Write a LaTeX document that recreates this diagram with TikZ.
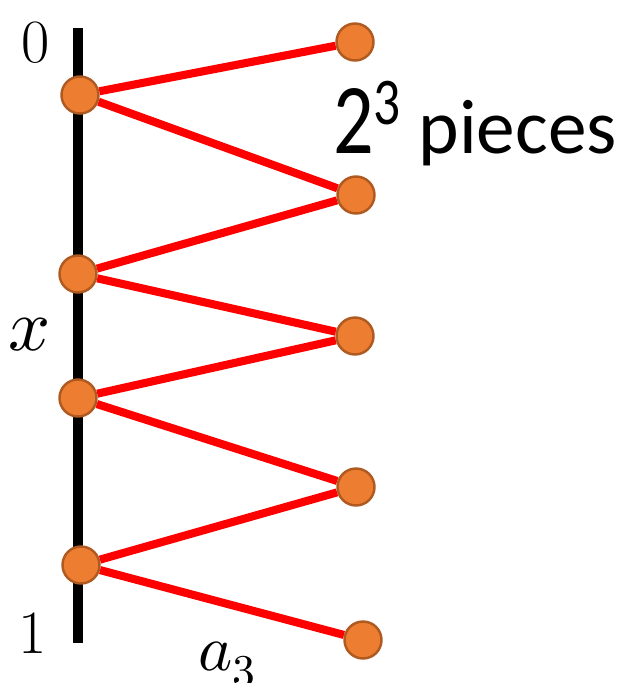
\documentclass[tikz,border=0pt]{standalone}
\usepackage{fontspec}
\usepackage{unicode-math}
\setmathfont{Latin Modern Math}
\newfontfamily\piecesfont{Carlito}
\usepackage{graphicx}
\usepackage{tikz}
\usetikzlibrary{positioning}
\definecolor{DotFill}{HTML}{ED7D31}
\definecolor{DotLine}{HTML}{AE5A21}
\definecolor{ZigRed}{HTML}{FF0000}

\begin{document}
\begin{tikzpicture}[
  x=0.02cm, y=-0.02cm,
  dot/.style={circle, draw=DotLine, fill=DotFill, line width=1.4pt, minimum size=0.74cm, inner sep=0pt},
  zig/.style={draw=ZigRed, line width=4.6pt},
  axis/.style={draw=black, line width=6.2pt},
  lbl/.style={inner sep=0pt, anchor=base}
]
\useasboundingbox (0,0) rectangle (623,683);
% the unit interval
\coordinate (top) at (78,28);
\coordinate (bot) at (78,643);
\draw[axis] (top) -- (bot);
% points on the interval
\node[dot] (l1) at (80,95) {};
\node[dot] (l2) at (78,274) {};
\node[dot] (l3) at (78,398) {};
\node[dot] (l4) at (81,565) {};
% images on the right
\node[dot] (r1) at (355,42) {};
\node[dot] (r2) at (356,195) {};
\node[dot] (r3) at (355,336) {};
\node[dot] (r4) at (356,487) {};
\node[dot] (r5) at (363,640) {};
% zigzag
\draw[zig] (l1) -- (r1);
\draw[zig] (l1) -- (r2);
\draw[zig] (r2) -- (l2);
\draw[zig] (l2) -- (r3);
\draw[zig] (r3) -- (l3);
\draw[zig] (l3) -- (r4);
\draw[zig] (r4) -- (l4);
\draw[zig] (l4) -- (r5);
% labels
\node[lbl, font=\fontsize{35}{35}\selectfont] (zero) at (36,62) {0};
\node[lbl, font=\fontsize{35}{35}\selectfont] (one) at (33,653) {1};
\node[lbl, font=\fontsize{42}{42}\selectfont] (xlbl) at (30,350) {$x$};
\node[lbl, anchor=base west, font=\fontsize{37}{37}\selectfont] (alab) at (198,670) {$a_3$};
\node[lbl, anchor=base west, font=\piecesfont\fontsize{44}{44}\selectfont] (pieces) at (333,153)
  {\scalebox{0.8}[1]{\fontsize{57}{57}\selectfont 2}\raisebox{16pt}{\scalebox{0.8}[1]{\fontsize{38}{38}\selectfont 3}}\hspace{10pt}pieces};
\end{tikzpicture}
\end{document}
